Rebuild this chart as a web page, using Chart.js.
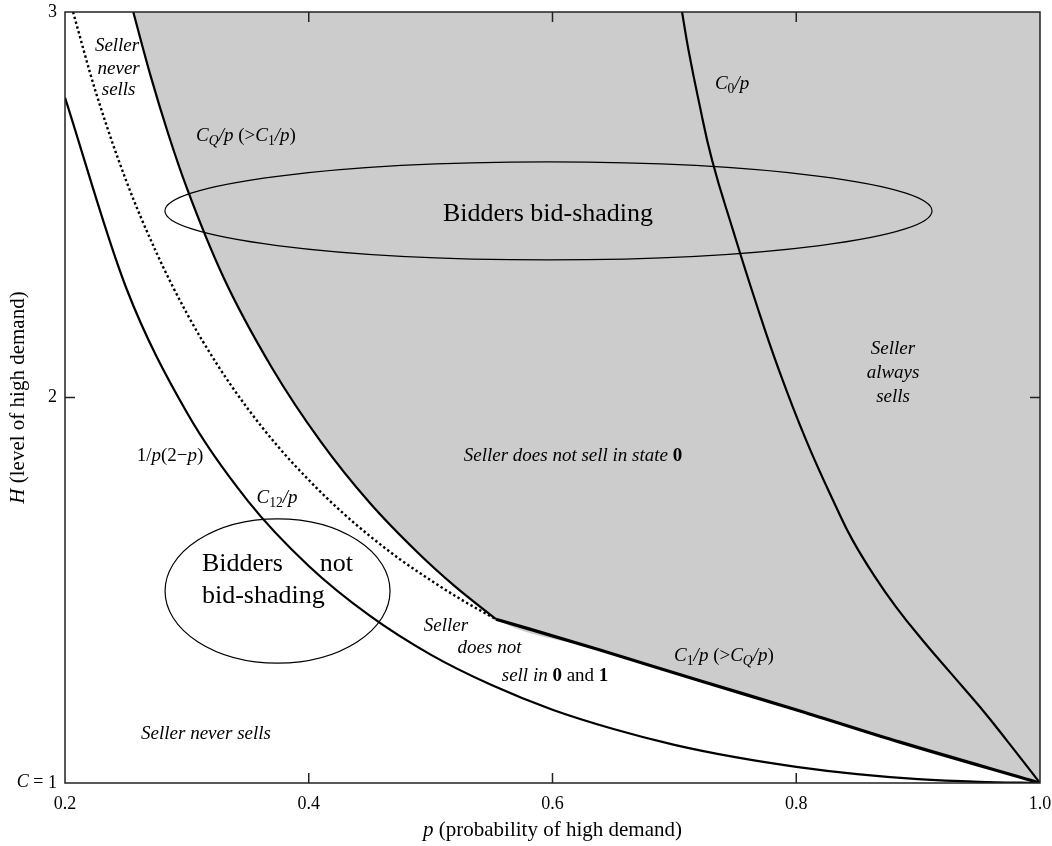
<!DOCTYPE html>
<html>
<head>
<meta charset="utf-8">
<script src="https://cdn.jsdelivr.net/npm/chart.js@4.4.1/dist/chart.umd.min.js"></script>
<style>
html,body{margin:0;background:#fff}
#wrap{width:1052px;height:846px}
</style>
</head>
<body>
<div id="wrap"><canvas id="myChart"></canvas></div>
<script>
// ---- data (p = probability of high demand, H = level of high demand) ----
let xTicks=[0.2,0.4,0.6,0.8,1.0];
let yTicks=[1,2,3];

// 1/p(2-p)
let lowP=[0.2,0.25,0.3,0.35,0.4,0.45,0.5,0.55,0.6,0.65,0.7,0.75,0.8,0.85,0.9,0.95,1.0];
let lowH=[2.778,2.286,1.961,1.732,1.563,1.434,1.333,1.254,1.190,1.140,1.099,1.067,1.042,1.023,1.010,1.003,1.0];

// C12/p (dotted)
let c12P=[0.2066,0.225,0.25,0.275,0.3,0.325,0.35,0.375,0.4,0.425,0.45,0.475,0.5,0.525,0.5536];
let c12H=[3.0,2.795,2.564,2.376,2.218,2.085,1.971,1.872,1.786,1.709,1.641,1.580,1.526,1.476,1.425];

// CQ/p
let cqP=[0.256,0.27,0.285,0.3,0.33,0.37,0.41,0.45,0.49,0.52,0.5536];
let cqH=[3.0,2.837,2.681,2.543,2.312,2.076,1.885,1.727,1.596,1.510,1.425];

// C1/p
let c1P=[0.5536,0.639,0.721,0.8031,0.8851,1.0];
let c1H=[1.425,1.345,1.265,1.187,1.106,1.0];

// C0/p
let c0P=[0.7063,0.7116,0.7198,0.7309,0.7481,0.7662,0.7858,0.8080,0.8339,0.8462,0.8635,0.8818,0.9035,0.9268,0.9508,0.9724,1.0];
let c0H=[3.0,2.901,2.772,2.616,2.434,2.253,2.071,1.890,1.708,1.630,1.540,1.457,1.371,1.285,1.197,1.112,1.0];

const serif="'Liberation Serif','Times New Roman',serif";

function pts(px,py){
  return px.map((v,i)=>({x:v,y:py[i]}));
}

// ---- annotations (in data units) ----
let ellipses=[
  {p:0.5967,h:2.484,rp:0.3147,rh:0.127},
  {p:0.3744,h:1.498,rp:0.0923,rh:0.187}
];

let notes=[
  {p:0.2427,h:2.912,size:19,segs:[['Seller','i']]},
  {p:0.2440,h:2.853,size:19,segs:[['never','i']]},
  {p:0.2440,h:2.798,size:19,segs:[['sells','i']]},
  {p:0.3485,h:2.679,size:19,segs:[['C','i'],['Q','si'],['/p','i'],[' (>','n'],['C','i'],['1','s'],['/p','i'],[')','n']]},
  {p:0.7473,h:2.814,size:19,segs:[['C','i'],['0','s'],['/p','i']]},
  {p:0.5963,h:2.477,size:26,segs:[['Bidders bid-shading','n']]},
  {p:0.8794,h:2.126,size:19,segs:[['Seller','i']]},
  {p:0.8794,h:2.064,size:19,segs:[['always','i']]},
  {p:0.8794,h:2.002,size:19,segs:[['sells','i']]},
  {p:0.6168,h:1.849,size:19,segs:[['Seller does not sell in state ','i'],['0','b']]},
  {p:0.2862,h:1.849,size:19,segs:[['1/','n'],['p','i'],['(2\u2212','n'],['p','i'],[')','n']]},
  {p:0.374,h:1.740,size:19,segs:[['C','i'],['12','s'],['/p','i']]},
  {p:0.3124,h:1.569,size:26,align:'left',segs:[['Bidders','n']]},
  {p:0.4363,h:1.569,size:26,align:'right',segs:[['not','n']]},
  {p:0.3124,h:1.485,size:26,align:'left',segs:[['bid-shading','n']]},
  {p:0.5126,h:1.408,size:19,segs:[['Seller','i']]},
  {p:0.5483,h:1.351,size:19,segs:[['does not','i']]},
  {p:0.6021,h:1.278,size:19,segs:[['sell in ','i'],['0','b'],[' and ','n'],['1','b']]},
  {p:0.7407,h:1.330,size:19,segs:[['C','i'],['1','s'],['/p','i'],[' (>','n'],['C','i'],['Q','si'],['/p','i'],[')','n']]},
  {p:0.3157,h:1.128,size:19,segs:[['Seller never sells','i']]}
];

function fontOf(st,size){
  let f='';
  if(st.includes('i')) f+='italic ';
  if(st.includes('b')) f+='bold ';
  let sz=st.includes('s')?size*0.72:size;
  return f+sz+'px '+serif;
}

function drawRich(ctx,segs,x,y,size,align){
  let w=0;
  for(const [t,st] of segs){ ctx.font=fontOf(st,size); w+=ctx.measureText(t).width; }
  let cx=align==='left'?x:(align==='right'?x-w:x-w/2);
  let base=y+size*0.28;
  ctx.textAlign='left';
  ctx.textBaseline='alphabetic';
  ctx.fillStyle='#000';
  for(const [t,st] of segs){
    ctx.font=fontOf(st,size);
    ctx.fillText(t,cx,st.includes('s')?base+size*0.22:base);
    cx+=ctx.measureText(t).width;
  }
}

const overlay={
  id:'overlay',
  afterDraw(chart){
    const ctx=chart.ctx, a=chart.chartArea, xs=chart.scales.x, ys=chart.scales.y;
    ctx.save();
    // frame
    ctx.strokeStyle='#222';
    ctx.lineWidth=1.5;
    ctx.strokeRect(a.left,a.top,a.right-a.left,a.bottom-a.top);
    // inward tick marks
    ctx.beginPath();
    xTicks.forEach(v=>{
      if(v<=xs.min||v>=xs.max) return;
      const px=xs.getPixelForValue(v);
      ctx.moveTo(px,a.bottom); ctx.lineTo(px,a.bottom-10);
      ctx.moveTo(px,a.top); ctx.lineTo(px,a.top+10);
    });
    yTicks.forEach(v=>{
      if(v<=ys.min||v>=ys.max) return;
      const py=ys.getPixelForValue(v);
      ctx.moveTo(a.left,py); ctx.lineTo(a.left+10,py);
      ctx.moveTo(a.right,py); ctx.lineTo(a.right-10,py);
    });
    ctx.stroke();
    // ellipses
    ctx.lineWidth=1.2;
    ctx.strokeStyle='#000';
    ellipses.forEach(e=>{
      const cx=xs.getPixelForValue(e.p), cy=ys.getPixelForValue(e.h);
      const rx=Math.abs(xs.getPixelForValue(e.p+e.rp)-cx);
      const ry=Math.abs(ys.getPixelForValue(e.h+e.rh)-cy);
      ctx.beginPath();
      ctx.ellipse(cx,cy,rx,ry,0,0,Math.PI*2);
      ctx.stroke();
    });
    // text notes
    notes.forEach(n=>{
      drawRich(ctx,n.segs,xs.getPixelForValue(n.p),ys.getPixelForValue(n.h),n.size,n.align||'center');
    });
    // "C =" in front of the bottom y tick label
    ctx.font='18px '+serif;
    const oneW=ctx.measureText('1').width;
    const yOne=ys.getPixelForValue(yTicks[0]);
    drawRich(ctx,[['C','i'],[' = ','n']],a.left-8-oneW,yOne-1,18,'right');
    // axis titles
    drawRich(ctx,[['p','i'],[' (probability of high demand)','n']],(a.left+a.right)/2,a.bottom+47,21,'center');
    ctx.translate(18,(a.top+a.bottom)/2);
    ctx.rotate(-Math.PI/2);
    drawRich(ctx,[['H','i'],[' (level of high demand)','n']],0,0,21,'center');
    ctx.restore();
  }
};

let shadePts=pts(cqP,cqH).concat(pts(c1P,c1H).slice(1));

let lineBase={borderColor:'#000',pointRadius:0,fill:false,cubicInterpolationMode:'monotone'};

new Chart("myChart",{
  type:"line",
  data:{
    datasets:[
      {label:'shade',data:shadePts,fill:'end',backgroundColor:'#cccccc',borderWidth:0,pointRadius:0,cubicInterpolationMode:'monotone'},
      Object.assign({label:'CQ/p',data:pts(cqP,cqH),borderWidth:2.2},lineBase),
      Object.assign({label:'C1/p',data:pts(c1P,c1H),borderWidth:3.2},lineBase),
      Object.assign({label:'C12/p',data:pts(c12P,c12H),borderWidth:2.4,borderDash:[2.4,2.6]},lineBase),
      Object.assign({label:'1/p(2-p)',data:pts(lowP,lowH),borderWidth:2.2},lineBase),
      Object.assign({},lineBase,{label:'C0/p',data:pts(c0P,c0H),borderWidth:2.2,cubicInterpolationMode:'default',tension:0.45})
    ]
  },
  options:{
    animation:false,
    responsive:true,
    maintainAspectRatio:false,
    layout:{padding:{top:12,right:12,left:0,bottom:0}},
    plugins:{
      legend:{display:false},
      tooltip:{enabled:false},
      filler:{drawTime:'beforeDatasetsDraw'}
    },
    scales:{
      x:{
        type:'linear',min:0.2,max:1.0,
        grid:{display:false,drawTicks:false},
        border:{display:false},
        afterBuildTicks:s=>{s.ticks=xTicks.map(v=>({value:v}));},
        afterFit:s=>{s.height=63;s.paddingLeft=0;s.paddingRight=0;},
        ticks:{callback:v=>Number(v).toFixed(1),padding:10,maxRotation:0,autoSkip:false,color:'#000',font:{family:serif,size:18}}
      },
      y:{
        type:'linear',min:1,max:3,
        grid:{display:false,drawTicks:false},
        border:{display:false},
        afterBuildTicks:s=>{s.ticks=yTicks.map(v=>({value:v}));},
        afterFit:s=>{s.width=65;s.paddingTop=0;s.paddingBottom=0;},
        ticks:{callback:v=>String(v),padding:8,autoSkip:false,color:'#000',font:{family:serif,size:18}}
      }
    }
  },
  plugins:[overlay]
});
</script>
</body>
</html>
